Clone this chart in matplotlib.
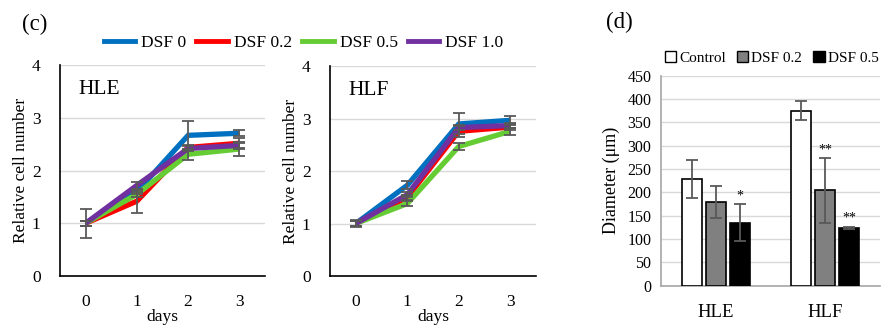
import numpy as np
import matplotlib.pyplot as plt
from matplotlib.lines import Line2D
from matplotlib.patches import Patch

plt.rcParams['font.family'] = ['Liberation Serif', 'DejaVu Serif']

# line charts data
days = [0, 1, 2, 3]
series_names = ['DSF 0', 'DSF 0.2', 'DSF 0.5', 'DSF 1.0']
series_colors = ['#0070C0', '#FF0000', '#66CC33', '#7030A0']

hle_vals = [
    [1.0, 1.60, 2.67, 2.71],
    [1.0, 1.42, 2.44, 2.52],
    [1.0, 1.55, 2.31, 2.41],
    [1.0, 1.72, 2.42, 2.48],
]
hle_err = [
    [0.28, 0.05, 0.27, 0.06],
    [0.05, 0.22, 0.05, 0.10],
    [0.05, 0.05, 0.10, 0.13],
    [0.05, 0.06, 0.05, 0.05],
]
hlf_vals = [
    [1.0, 1.73, 2.90, 2.97],
    [1.0, 1.50, 2.76, 2.84],
    [1.0, 1.38, 2.47, 2.76],
    [1.0, 1.55, 2.83, 2.87],
]
hlf_err = [
    [0.07, 0.08, 0.20, 0.09],
    [0.05, 0.05, 0.10, 0.05],
    [0.05, 0.05, 0.07, 0.07],
    [0.05, 0.05, 0.05, 0.05],
]

# bar chart data
bar_groups = ['HLE', 'HLF']
bar_names = ['Control', 'DSF 0.2', 'DSF 0.5']
bar_colors = ['white', '#808080', 'black']
bar_vals = [[228, 375], [179, 204], [135, 124]]
bar_err = [[41, 20], [35, 69], [40, 2]]
bar_marks = [['', ''], ['', '**'], ['*', '**']]

fig = plt.figure(figsize=(8.85, 3.25), dpi=100)
ax1 = fig.add_axes([0.0678, 0.151, 0.2316, 0.648])
ax2 = fig.add_axes([0.3729, 0.151, 0.2328, 0.645])
ax3 = fig.add_axes([0.7469, 0.121, 0.2475, 0.646])

fs = 12.5


def line_panel(ax, vals, errs, title):
    for v, e, c in zip(vals, errs, series_colors):
        ax.plot(days, v, color=c, lw=3.8, solid_capstyle='butt', zorder=3)
    for v, e in zip(vals, errs):
        ax.errorbar(days, v, yerr=e, fmt='none', ecolor='#595959',
                    elinewidth=1.3, capsize=4, capthick=1.3, zorder=4)
    ax.set_xlim(-0.5, 3.5)
    ax.set_ylim(0, 4)
    ax.set_xticks(days)
    ax.set_yticks([0, 1, 2, 3, 4])
    ax.tick_params(length=0, labelsize=fs, pad=13)
    ax.tick_params(axis='y', pad=14)
    ax.grid(axis='y', color='#d9d9d9', lw=1)
    ax.set_axisbelow(True)
    for s in ['top', 'right']:
        ax.spines[s].set_visible(False)
    for s in ['left', 'bottom']:
        ax.spines[s].set_color('black')
        ax.spines[s].set_linewidth(1.2)
    ax.set_ylabel('Relative cell number', fontsize=fs, labelpad=2)
    ax.set_xlabel('days', fontsize=fs, labelpad=-1)
    ax.text(0.09, 0.93, title, transform=ax.transAxes, fontsize=15.5,
            va='top', ha='left')


line_panel(ax1, hle_vals, hle_err, 'HLE')
line_panel(ax2, hlf_vals, hlf_err, 'HLF')

handles = [Line2D([0], [0], color=c, lw=3.5) for c in series_colors]
fig.legend(handles, series_names, loc='center', bbox_to_anchor=(0.343, 0.868),
           ncol=4, frameon=False, fontsize=fs, handlelength=1.8,
           handletextpad=0.35, columnspacing=0.6)

# bar chart
x = np.arange(len(bar_groups))
w = 0.182
step = 0.22
for i, (v, e, c) in enumerate(zip(bar_vals, bar_err, bar_colors)):
    pos = x + (i - 1) * step
    ax3.bar(pos, v, width=w, color=c, edgecolor='black', lw=1.2, zorder=3)
    ax3.errorbar(pos, v, yerr=e, fmt='none', ecolor='#595959', elinewidth=1.3,
                 capsize=4, capthick=1.3, zorder=4)
    for p, val, err, m in zip(pos, v, e, bar_marks[i]):
        if m:
            ax3.text(p, val + err + 4, m, ha='center', va='bottom', fontsize=10)
ax3.set_xlim(-0.5, 1.5)
ax3.set_ylim(0, 450)
ax3.set_xticks(x)
ax3.set_xticklabels(bar_groups)
ax3.set_yticks(np.arange(0, 451, 50))
ax3.tick_params(length=0, labelsize=11.5)
ax3.tick_params(axis='x', pad=13, labelsize=13.5)
ax3.tick_params(axis='y', pad=7)
ax3.grid(axis='y', color='#d9d9d9', lw=1)
ax3.set_axisbelow(True)
for s in ['top', 'right']:
    ax3.spines[s].set_visible(False)
for s in ['left', 'bottom']:
    ax3.spines[s].set_color('#a6a6a6')
    ax3.spines[s].set_linewidth(1.2)
ax3.set_ylabel('Diameter (μm)', fontsize=13, labelpad=5)

bar_handles = [Patch(facecolor=c, edgecolor='black', lw=1) for c in bar_colors]
fig.legend(bar_handles, bar_names, loc='center', bbox_to_anchor=(0.872, 0.822),
           ncol=3, frameon=False, fontsize=11, handlelength=0.75,
           handleheight=0.75, handletextpad=0.2, columnspacing=0.7)

fig.text(0.025, 0.925, '(c)', fontsize=16.5, ha='left', va='center')
fig.text(0.685, 0.93, '(d)', fontsize=16.5, ha='left', va='center')

fig.savefig('out.png', dpi=100)
